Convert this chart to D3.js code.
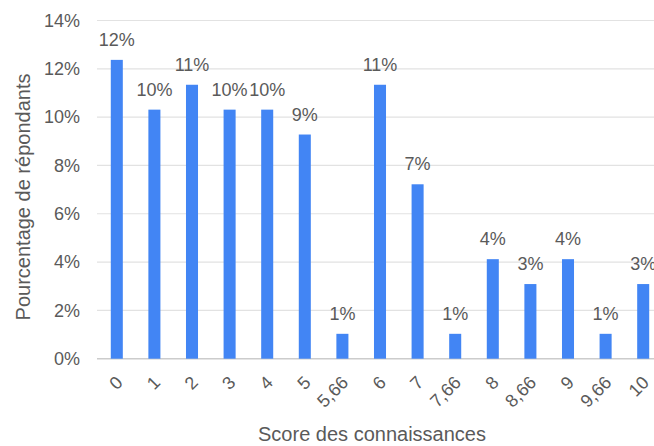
<!DOCTYPE html>
<html>
<head>
<meta charset="utf-8">
<script src="https://cdn.jsdelivr.net/npm/d3@7"></script>
<style>
  body { margin: 0; background: #fff; }
  svg { display: block; font-family: "Liberation Sans", Arial, sans-serif; }
</style>
</head>
<body>
<div id="chart"></div>
<script>
// Data
const scores = ["0", "1", "2", "3", "4", "5", "5,66", "6", "7", "7,66", "8", "8,66", "9", "9,66", "10"];
const percents = [12.37, 10.31, 11.34, 10.31, 10.31, 9.28, 1.03, 11.34, 7.22, 1.03, 4.12, 3.09, 4.12, 1.03, 3.09];
const yTicks = [0, 2, 4, 6, 8, 10, 12, 14];
const xTitle = "Score des connaissances";
const yTitle = "Pourcentage de répondants";

// Layout
const width = 654;
const height = 446;
const textColor = "#5a5a5a";

const rows = scores.map((s, i) => ({ score: s, value: percents[i] }));

const svg = d3.select("#chart").append("svg")
  .attr("width", width)
  .attr("height", height);

const x = d3.scaleBand()
  .domain(scores)
  .range([98, 662])
  .paddingInner(0.68)
  .paddingOuter(0.34);

const y = d3.scaleLinear()
  .domain([0, 14])
  .range([358.7, 20.5]);

// gridlines + y tick labels
const yAxis = svg.append("g")
  .call(d3.axisLeft(y).tickValues(yTicks).tickFormat(d => d + "%").tickSize(0).tickPadding(0))
  .attr("transform", "translate(80,0)");
yAxis.select(".domain").remove();
yAxis.selectAll("text")
  .attr("fill", textColor)
  .style("font-size", "18px");

svg.append("g").selectAll("line").data(yTicks).join("line")
  .attr("x1", 97).attr("x2", width)
  .attr("y1", d => y(d)).attr("y2", d => y(d))
  .attr("stroke", d => d === 0 ? "#cccccc" : "#e2e2e2")
  .attr("stroke-width", d => d === 0 ? 1.5 : 1.2);

// bars
svg.append("g").selectAll("rect").data(rows).join("rect")
  .attr("x", d => x(d.score))
  .attr("y", d => y(d.value))
  .attr("width", x.bandwidth())
  .attr("height", d => y(0) - y(d.value))
  .attr("fill", "#4285f4");

// value labels
svg.append("g").selectAll("text").data(rows).join("text")
  .attr("x", d => x(d.score) + x.bandwidth() / 2)
  .attr("y", d => y(d.value) - 14)
  .attr("text-anchor", "middle")
  .attr("fill", textColor)
  .style("font-size", "18px")
  .text(d => Math.round(d.value) + "%");

// x tick labels, slanted
const xAxis = svg.append("g")
  .attr("transform", `translate(0,${y(0)})`)
  .call(d3.axisBottom(x).tickSize(0).tickPadding(0));
xAxis.select(".domain").remove();
xAxis.selectAll("text")
  .attr("fill", textColor)
  .style("font-size", "18px")
  .attr("text-anchor", "end")
  .attr("dy", null)
  .attr("transform", "translate(7,25) rotate(-45)");

// axis titles
svg.append("text")
  .attr("x", 372)
  .attr("y", 441)
  .attr("text-anchor", "middle")
  .attr("fill", textColor)
  .style("font-size", "20px")
  .text(xTitle);

svg.append("text")
  .attr("transform", "translate(30,197) rotate(-90)")
  .attr("text-anchor", "middle")
  .attr("fill", textColor)
  .style("font-size", "20px")
  .text(yTitle);
</script>
</body>
</html>
